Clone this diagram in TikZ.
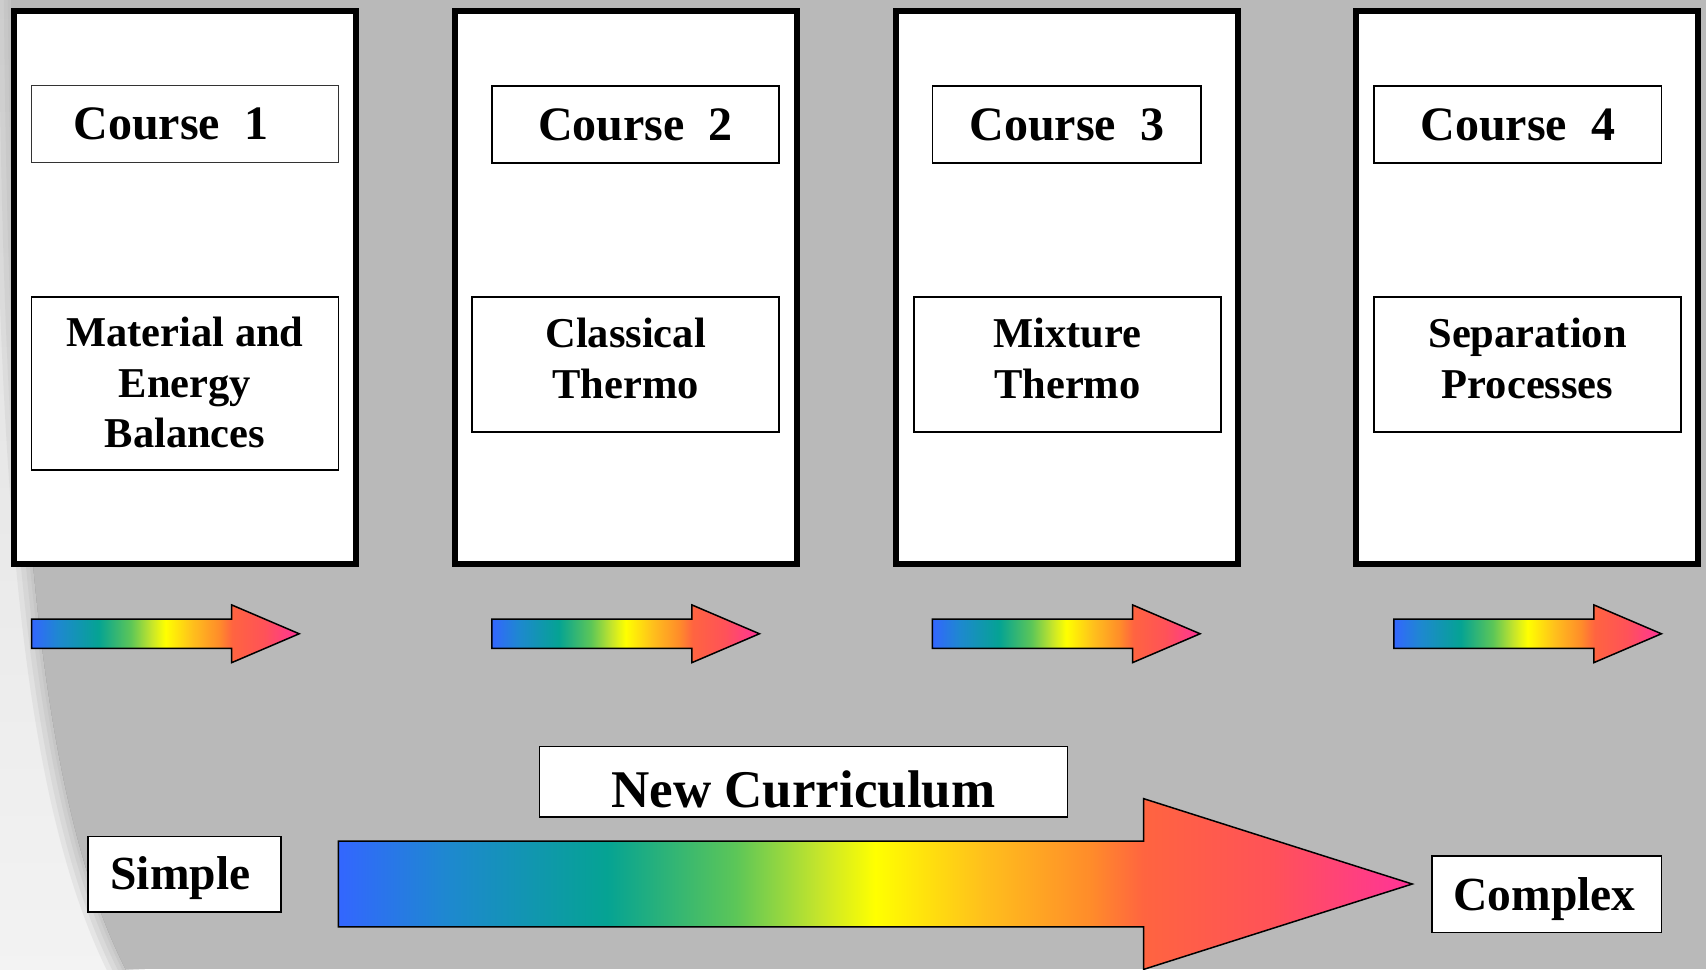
\documentclass[tikz,border=0pt]{standalone}
\usepackage{fontspec}
\setmainfont{Liberation Serif}

\definecolor{bg}{RGB}{185,185,185}
\definecolor{lightbgA}{RGB}{222,222,222}
\definecolor{lightbgB}{RGB}{243,243,243}
% rainbow ramp used by all arrows
\definecolor{rb0}{HTML}{3366FF}
\definecolor{rb1}{HTML}{1E88D0}
\definecolor{rb2}{HTML}{05A393}
\definecolor{rb3}{HTML}{5CC658}
\definecolor{rb4}{HTML}{C8E62A}
\definecolor{rb5}{HTML}{FFFF00}
\definecolor{rb6}{HTML}{FFC01C}
\definecolor{rb7}{HTML}{FF8C2A}
\definecolor{rb8}{HTML}{FF6440}
\definecolor{rb9}{HTML}{FF5258}
\definecolor{rb10}{HTML}{FF3399}
\pgfdeclarehorizontalshading{rainbow}{100bp}{%
  color(0bp)=(rb0); color(25bp)=(rb0); color(30bp)=(rb1);
  color(37.5bp)=(rb2); color(43.5bp)=(rb3); color(47.5bp)=(rb4);
  color(50bp)=(rb5); color(55bp)=(rb6); color(60bp)=(rb7);
  color(62.5bp)=(rb8); color(68.5bp)=(rb9); color(75bp)=(rb10);
  color(100bp)=(rb10)}

% extra depth below the last line, lifting a text block inside its box
\newcommand\liftby[1]{\rule[-#1]{0pt}{#1}}

\tikzset{
  % rectangle spanning the corners (x1,y1) and (x2,y2)
  span/.style n args={4}{at={({(#1+#3)/2},{(#2+#4)/2})},
    minimum width={(#3-#1)*1.08801pt}, minimum height={(#4-#2)*1.08801pt}},
  coursebox/.style={draw=black, line width=6pt, fill=white, inner sep=0pt},
  titlebox/.style={draw=black, line width=1.6pt, fill=white, inner sep=0pt,
    font=\fontsize{48}{58}\selectfont\bfseries, text height=31.8pt, text depth=0pt},
  subjectbox/.style={draw=black, line width=1.6pt, fill=white, inner sep=0pt,
    align=center, font=\fontsize{42.5}{50.5}\selectfont\bfseries},
  labelbox/.style={draw=black, line width=1.6pt, fill=white, inner sep=0pt,
    font=\fontsize{47.5}{56}\selectfont\bfseries, text height=31.4pt, text depth=0pt},
  rbarrow/.style={shade, shading=rainbow, draw=black, line width=1.5pt, line join=miter},
}

\begin{document}
\begin{tikzpicture}[x=1.08801pt, y=-1.08801pt]
\useasboundingbox (0,0) rectangle (1568,891);

% backdrop: gray field with a pale band along the left edge
\fill[bg] (0,0) rectangle (1568,891);
\fill[top color=lightbgA, bottom color=lightbgB]
  (0,-5) -- (10,-5) -- (10,0) .. controls (14,450) and (34,740) .. (120,900) -- (0,900) -- cycle;
\foreach \w/\o in {34/0.22, 24/0.25, 14/0.3, 6/0.35}
  \draw[bg, line width=\w pt, opacity=\o]
    (10,-20) -- (10,0) .. controls (14,450) and (34,740) .. (120,900);

% four course columns
\node[coursebox, span={12.5}{10.5}{327.5}{518.5}] (col1) {};
\node[coursebox, span={418.5}{10.5}{732.5}{518.5}] (col2) {};
\node[coursebox, span={823.5}{10.5}{1137.5}{518.5}] (col3) {};
\node[coursebox, span={1246.5}{10.5}{1560.5}{518.5}] (col4) {};

% course titles
\node[titlebox, line width=1pt, draw=black!80, span={29}{79}{311}{149}] (t1) {Course~~1\hspace*{28pt}};
\node[titlebox, span={452}{79}{716}{150}] (t2) {Course~~2};
\node[titlebox, span={857}{79}{1104}{150}] (t3) {Course~~3};
\node[titlebox, span={1263}{79}{1527}{150}] (t4) {Course~~4};

% course subjects
\node[subjectbox, span={29}{273}{311}{432}] (s1) {Material and\\Energy\\Balances\liftby{2pt}};
\node[subjectbox, span={434}{273}{716}{397}] (s2) {Classical\\Thermo\liftby{12pt}};
\node[subjectbox, span={840}{273}{1122}{397}] (s3) {Mixture\\Thermo\liftby{12pt}};
\node[subjectbox, span={1263}{273}{1545}{397}] (s4) {Separation\\Processes\liftby{12pt}};

% progression arrow under each column
\foreach \x in {29,452,857,1281}
  \draw[rbarrow] (\x,569) -- (\x+184,569) -- (\x+184,556) -- (\x+246,582.5)
    -- (\x+184,609) -- (\x+184,596) -- (\x,596) -- cycle;

% overall curriculum arrow
\draw[rbarrow] (311,773) -- (1051,773) -- (1051,734) -- (1298,812.5)
  -- (1051,891) -- (1051,852) -- (311,852) -- cycle;

\node[labelbox, span={496}{686}{981}{751}, font=\fontsize{53}{62}\selectfont\bfseries,
  text height=51pt] (nc) {New Curriculum};
\node[labelbox, span={81}{769}{258}{838}] (simple) {Simple\hspace*{8pt}};
\node[labelbox, span={1316}{787}{1527}{857}] (complex) {Complex\hspace*{4pt}};
\end{tikzpicture}
\end{document}
